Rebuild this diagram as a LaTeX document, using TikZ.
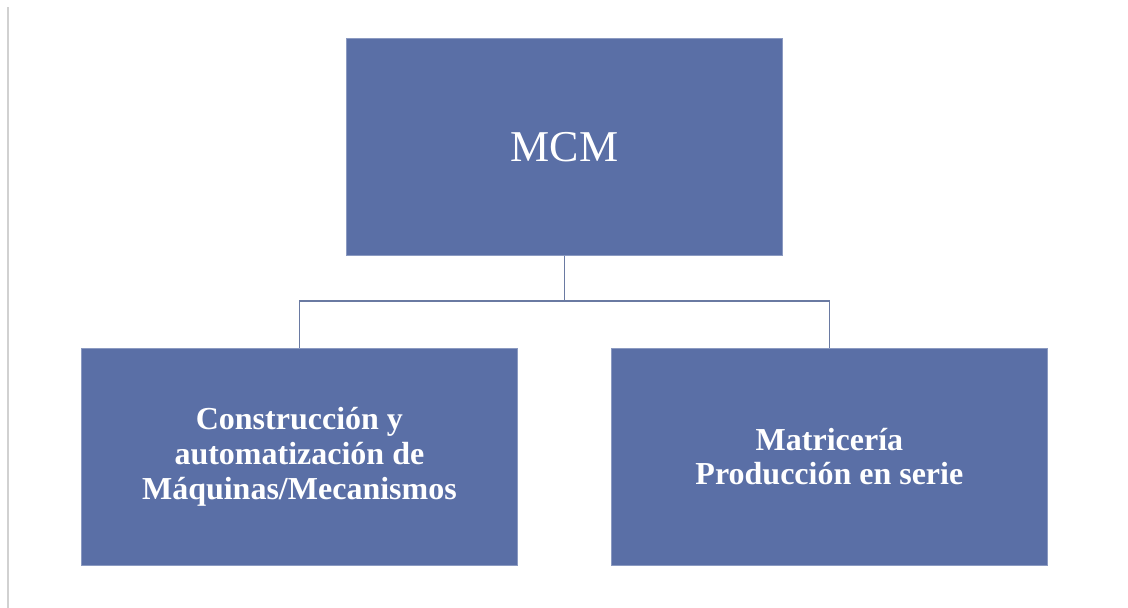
\documentclass[tikz,border=0pt]{standalone}
\usepackage{fontspec}
\setmainfont{Liberation Serif}
\usetikzlibrary{calc}
\definecolor{boxblue}{HTML}{5A6FA6}
\definecolor{linkblue}{HTML}{6A7AA2}
\tikzset{
	unitbox/.style={fill=boxblue, draw=boxblue!70!white, line width=0.8pt, text=white, inner sep=0pt, minimum width=436pt, minimum height=217pt, anchor=north west, align=center},
	link/.style={draw=linkblue, line width=1.6pt}
}

\begin{document}
\begin{tikzpicture}[x=1pt, y=-1pt]
		%%%%% START %%%%%
		\useasboundingbox[fill=white] (0, 0) rectangle (1128, 608);
		
		\draw[line width=1.5pt, color=black!18] (8, 7) -- (8, 608);
		
		\node[unitbox, font=\fontsize{44}{48}\selectfont] (mcm) at (346, 38) {MCM};
		\node[unitbox, font=\fontsize{32}{35}\selectfont\bfseries] (cam) at (81, 348) {Construcción y\\automatización de\\Máquinas/Mecanismos};
		\node[unitbox, font=\fontsize{32}{34}\selectfont\bfseries] (mat) at (611, 348) {Matricería\\Producción en serie};
		
		\draw[link] (mcm.south) -- ++(0, 45) -| (cam.north);
		\draw[link] (mcm.south) -- ++(0, 45) -| (mat.north);
		
		%%%%% END %%%%%
	\end{tikzpicture}
\end{document}
